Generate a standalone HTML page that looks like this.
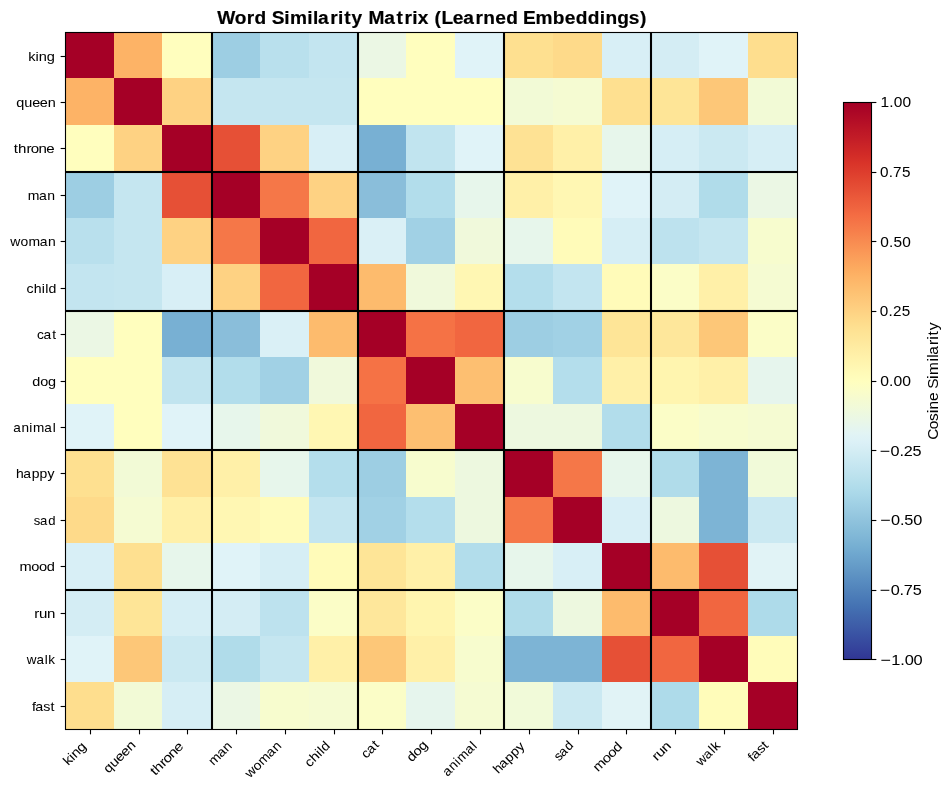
<!DOCTYPE html>
<html><head><meta charset="utf-8"><title>Word Similarity Matrix</title>
<style>html,body{margin:0;padding:0;background:#fff;}svg{display:block;will-change:transform;}text{font-family:"Liberation Sans",sans-serif;fill:#000;}</style></head>
<body>
<svg width="952" height="790" viewBox="0 0 952 790">
<rect x="0" y="0" width="952" height="790" fill="#fff"/>
<g shape-rendering="crispEdges">
<rect x="65" y="32" width="49" height="46" fill="#a50026"/><rect x="114" y="32" width="48" height="46" fill="#fdb366"/><rect x="162" y="32" width="50" height="46" fill="#fffebe"/><rect x="212" y="32" width="48" height="46" fill="#9dcee3"/><rect x="260" y="32" width="49" height="46" fill="#b9e0ed"/><rect x="309" y="32" width="49" height="46" fill="#c3e5f0"/><rect x="358" y="32" width="48" height="46" fill="#ebf7e4"/><rect x="406" y="32" width="49" height="46" fill="#fffebe"/><rect x="455" y="32" width="49" height="46" fill="#e0f3f8"/><rect x="504" y="32" width="49" height="46" fill="#fee090"/><rect x="553" y="32" width="49" height="46" fill="#feda8a"/><rect x="602" y="32" width="49" height="46" fill="#d8eff6"/><rect x="651" y="32" width="48" height="46" fill="#d4edf4"/><rect x="699" y="32" width="49" height="46" fill="#e0f3f8"/><rect x="748" y="32" width="50" height="46" fill="#fede8e"/>
<rect x="65" y="78" width="49" height="47" fill="#fdb366"/><rect x="114" y="78" width="48" height="47" fill="#a50026"/><rect x="162" y="78" width="50" height="47" fill="#fed283"/><rect x="212" y="78" width="48" height="47" fill="#c5e6f0"/><rect x="260" y="78" width="49" height="47" fill="#c5e6f0"/><rect x="309" y="78" width="49" height="47" fill="#c5e6f0"/><rect x="358" y="78" width="48" height="47" fill="#fffebe"/><rect x="406" y="78" width="49" height="47" fill="#fffebe"/><rect x="455" y="78" width="49" height="47" fill="#fffebe"/><rect x="504" y="78" width="49" height="47" fill="#f2fad6"/><rect x="553" y="78" width="49" height="47" fill="#f5fbd2"/><rect x="602" y="78" width="49" height="47" fill="#fee090"/><rect x="651" y="78" width="48" height="47" fill="#fee597"/><rect x="699" y="78" width="49" height="47" fill="#fdc778"/><rect x="748" y="78" width="50" height="47" fill="#f2fad6"/>
<rect x="65" y="125" width="49" height="47" fill="#fffebe"/><rect x="114" y="125" width="48" height="47" fill="#fed283"/><rect x="162" y="125" width="50" height="47" fill="#a50026"/><rect x="212" y="125" width="48" height="47" fill="#e65036"/><rect x="260" y="125" width="49" height="47" fill="#fed283"/><rect x="309" y="125" width="49" height="47" fill="#d8eff6"/><rect x="358" y="125" width="48" height="47" fill="#78b0d3"/><rect x="406" y="125" width="49" height="47" fill="#c1e4ef"/><rect x="455" y="125" width="49" height="47" fill="#e0f3f8"/><rect x="504" y="125" width="49" height="47" fill="#fee294"/><rect x="553" y="125" width="49" height="47" fill="#fff0a8"/><rect x="602" y="125" width="49" height="47" fill="#e7f6eb"/><rect x="651" y="125" width="48" height="47" fill="#d6eef5"/><rect x="699" y="125" width="49" height="47" fill="#cbe9f2"/><rect x="748" y="125" width="50" height="47" fill="#d6eef5"/>
<rect x="65" y="172" width="49" height="46" fill="#9dcee3"/><rect x="114" y="172" width="48" height="46" fill="#c5e6f0"/><rect x="162" y="172" width="50" height="46" fill="#e65036"/><rect x="212" y="172" width="48" height="46" fill="#a50026"/><rect x="260" y="172" width="49" height="46" fill="#f57748"/><rect x="309" y="172" width="49" height="46" fill="#fed283"/><rect x="358" y="172" width="48" height="46" fill="#8abeda"/><rect x="406" y="172" width="49" height="46" fill="#b2ddeb"/><rect x="455" y="172" width="49" height="46" fill="#e7f6eb"/><rect x="504" y="172" width="49" height="46" fill="#fff0a8"/><rect x="553" y="172" width="49" height="46" fill="#fff7b3"/><rect x="602" y="172" width="49" height="46" fill="#e0f3f8"/><rect x="651" y="172" width="48" height="46" fill="#d4edf4"/><rect x="699" y="172" width="49" height="46" fill="#b0dcea"/><rect x="748" y="172" width="50" height="46" fill="#ebf7e4"/>
<rect x="65" y="218" width="49" height="46" fill="#b9e0ed"/><rect x="114" y="218" width="48" height="46" fill="#c5e6f0"/><rect x="162" y="218" width="50" height="46" fill="#fed283"/><rect x="212" y="218" width="48" height="46" fill="#f57748"/><rect x="260" y="218" width="49" height="46" fill="#a50026"/><rect x="309" y="218" width="49" height="46" fill="#f16640"/><rect x="358" y="218" width="48" height="46" fill="#daf0f6"/><rect x="406" y="218" width="49" height="46" fill="#a1d1e5"/><rect x="455" y="218" width="49" height="46" fill="#f0f9db"/><rect x="504" y="218" width="49" height="46" fill="#e7f6eb"/><rect x="553" y="218" width="49" height="46" fill="#fffbb9"/><rect x="602" y="218" width="49" height="46" fill="#d6eef5"/><rect x="651" y="218" width="48" height="46" fill="#bde2ee"/><rect x="699" y="218" width="49" height="46" fill="#c5e6f0"/><rect x="748" y="218" width="50" height="46" fill="#f7fcce"/>
<rect x="65" y="264" width="49" height="47" fill="#c3e5f0"/><rect x="114" y="264" width="48" height="47" fill="#c5e6f0"/><rect x="162" y="264" width="50" height="47" fill="#d8eff6"/><rect x="212" y="264" width="48" height="47" fill="#fed283"/><rect x="260" y="264" width="49" height="47" fill="#f16640"/><rect x="309" y="264" width="49" height="47" fill="#a50026"/><rect x="358" y="264" width="48" height="47" fill="#fdbb6d"/><rect x="406" y="264" width="49" height="47" fill="#f0f9db"/><rect x="455" y="264" width="49" height="47" fill="#fff7b3"/><rect x="504" y="264" width="49" height="47" fill="#b4deec"/><rect x="553" y="264" width="49" height="47" fill="#c3e5f0"/><rect x="602" y="264" width="49" height="47" fill="#fffbb9"/><rect x="651" y="264" width="48" height="47" fill="#fbfdc7"/><rect x="699" y="264" width="49" height="47" fill="#fff0a8"/><rect x="748" y="264" width="50" height="47" fill="#f5fbd2"/>
<rect x="65" y="311" width="49" height="46" fill="#ebf7e4"/><rect x="114" y="311" width="48" height="46" fill="#fffebe"/><rect x="162" y="311" width="50" height="46" fill="#78b0d3"/><rect x="212" y="311" width="48" height="46" fill="#8abeda"/><rect x="260" y="311" width="49" height="46" fill="#daf0f6"/><rect x="309" y="311" width="49" height="46" fill="#fdbb6d"/><rect x="358" y="311" width="48" height="46" fill="#a50026"/><rect x="406" y="311" width="49" height="46" fill="#f57245"/><rect x="455" y="311" width="49" height="46" fill="#f16640"/><rect x="504" y="311" width="49" height="46" fill="#9dcee3"/><rect x="553" y="311" width="49" height="46" fill="#a1d1e5"/><rect x="602" y="311" width="49" height="46" fill="#fee597"/><rect x="651" y="311" width="48" height="46" fill="#fee79b"/><rect x="699" y="311" width="49" height="46" fill="#fdc778"/><rect x="748" y="311" width="50" height="46" fill="#fbfdc7"/>
<rect x="65" y="357" width="49" height="47" fill="#fffebe"/><rect x="114" y="357" width="48" height="47" fill="#fffebe"/><rect x="162" y="357" width="50" height="47" fill="#c1e4ef"/><rect x="212" y="357" width="48" height="47" fill="#b2ddeb"/><rect x="260" y="357" width="49" height="47" fill="#a1d1e5"/><rect x="309" y="357" width="49" height="47" fill="#f0f9db"/><rect x="358" y="357" width="48" height="47" fill="#f57245"/><rect x="406" y="357" width="49" height="47" fill="#a50026"/><rect x="455" y="357" width="49" height="47" fill="#fdbf71"/><rect x="504" y="357" width="49" height="47" fill="#f7fcce"/><rect x="553" y="357" width="49" height="47" fill="#b4deec"/><rect x="602" y="357" width="49" height="47" fill="#fff0a8"/><rect x="651" y="357" width="48" height="47" fill="#fff5af"/><rect x="699" y="357" width="49" height="47" fill="#fff0a8"/><rect x="748" y="357" width="50" height="47" fill="#e6f5ed"/>
<rect x="65" y="404" width="49" height="46" fill="#e0f3f8"/><rect x="114" y="404" width="48" height="46" fill="#fffebe"/><rect x="162" y="404" width="50" height="46" fill="#e0f3f8"/><rect x="212" y="404" width="48" height="46" fill="#e7f6eb"/><rect x="260" y="404" width="49" height="46" fill="#f0f9db"/><rect x="309" y="404" width="49" height="46" fill="#fff7b3"/><rect x="358" y="404" width="48" height="46" fill="#f16640"/><rect x="406" y="404" width="49" height="46" fill="#fdbf71"/><rect x="455" y="404" width="49" height="46" fill="#a50026"/><rect x="504" y="404" width="49" height="46" fill="#edf8df"/><rect x="553" y="404" width="49" height="46" fill="#edf8df"/><rect x="602" y="404" width="49" height="46" fill="#b2ddeb"/><rect x="651" y="404" width="48" height="46" fill="#fbfdc7"/><rect x="699" y="404" width="49" height="46" fill="#f7fcce"/><rect x="748" y="404" width="50" height="46" fill="#f5fbd2"/>
<rect x="65" y="450" width="49" height="47" fill="#fee090"/><rect x="114" y="450" width="48" height="47" fill="#f2fad6"/><rect x="162" y="450" width="50" height="47" fill="#fee294"/><rect x="212" y="450" width="48" height="47" fill="#fff0a8"/><rect x="260" y="450" width="49" height="47" fill="#e7f6eb"/><rect x="309" y="450" width="49" height="47" fill="#b4deec"/><rect x="358" y="450" width="48" height="47" fill="#9dcee3"/><rect x="406" y="450" width="49" height="47" fill="#f7fcce"/><rect x="455" y="450" width="49" height="47" fill="#edf8df"/><rect x="504" y="450" width="49" height="47" fill="#a50026"/><rect x="553" y="450" width="49" height="47" fill="#f57748"/><rect x="602" y="450" width="49" height="47" fill="#e7f6eb"/><rect x="651" y="450" width="48" height="47" fill="#b0dcea"/><rect x="699" y="450" width="49" height="47" fill="#7db4d5"/><rect x="748" y="450" width="50" height="47" fill="#f1fad9"/>
<rect x="65" y="497" width="49" height="46" fill="#feda8a"/><rect x="114" y="497" width="48" height="46" fill="#f5fbd2"/><rect x="162" y="497" width="50" height="46" fill="#fff0a8"/><rect x="212" y="497" width="48" height="46" fill="#fff7b3"/><rect x="260" y="497" width="49" height="46" fill="#fffbb9"/><rect x="309" y="497" width="49" height="46" fill="#c3e5f0"/><rect x="358" y="497" width="48" height="46" fill="#a1d1e5"/><rect x="406" y="497" width="49" height="46" fill="#b4deec"/><rect x="455" y="497" width="49" height="46" fill="#edf8df"/><rect x="504" y="497" width="49" height="46" fill="#f57748"/><rect x="553" y="497" width="49" height="46" fill="#a50026"/><rect x="602" y="497" width="49" height="46" fill="#d8eff6"/><rect x="651" y="497" width="48" height="46" fill="#edf8df"/><rect x="699" y="497" width="49" height="46" fill="#7db4d5"/><rect x="748" y="497" width="50" height="46" fill="#cbe9f2"/>
<rect x="65" y="543" width="49" height="47" fill="#d8eff6"/><rect x="114" y="543" width="48" height="47" fill="#fee090"/><rect x="162" y="543" width="50" height="47" fill="#e7f6eb"/><rect x="212" y="543" width="48" height="47" fill="#e0f3f8"/><rect x="260" y="543" width="49" height="47" fill="#d6eef5"/><rect x="309" y="543" width="49" height="47" fill="#fffbb9"/><rect x="358" y="543" width="48" height="47" fill="#fee597"/><rect x="406" y="543" width="49" height="47" fill="#fff0a8"/><rect x="455" y="543" width="49" height="47" fill="#b2ddeb"/><rect x="504" y="543" width="49" height="47" fill="#e7f6eb"/><rect x="553" y="543" width="49" height="47" fill="#d8eff6"/><rect x="602" y="543" width="49" height="47" fill="#a50026"/><rect x="651" y="543" width="48" height="47" fill="#fdbb6d"/><rect x="699" y="543" width="49" height="47" fill="#e65036"/><rect x="748" y="543" width="50" height="47" fill="#e1f3f6"/>
<rect x="65" y="590" width="49" height="46" fill="#d4edf4"/><rect x="114" y="590" width="48" height="46" fill="#fee597"/><rect x="162" y="590" width="50" height="46" fill="#d6eef5"/><rect x="212" y="590" width="48" height="46" fill="#d4edf4"/><rect x="260" y="590" width="49" height="46" fill="#bde2ee"/><rect x="309" y="590" width="49" height="46" fill="#fbfdc7"/><rect x="358" y="590" width="48" height="46" fill="#fee79b"/><rect x="406" y="590" width="49" height="46" fill="#fff5af"/><rect x="455" y="590" width="49" height="46" fill="#fbfdc7"/><rect x="504" y="590" width="49" height="46" fill="#b0dcea"/><rect x="553" y="590" width="49" height="46" fill="#edf8df"/><rect x="602" y="590" width="49" height="46" fill="#fdbb6d"/><rect x="651" y="590" width="48" height="46" fill="#a50026"/><rect x="699" y="590" width="49" height="46" fill="#f16640"/><rect x="748" y="590" width="50" height="46" fill="#aedbea"/>
<rect x="65" y="636" width="49" height="46" fill="#e0f3f8"/><rect x="114" y="636" width="48" height="46" fill="#fdc778"/><rect x="162" y="636" width="50" height="46" fill="#cbe9f2"/><rect x="212" y="636" width="48" height="46" fill="#b0dcea"/><rect x="260" y="636" width="49" height="46" fill="#c5e6f0"/><rect x="309" y="636" width="49" height="46" fill="#fff0a8"/><rect x="358" y="636" width="48" height="46" fill="#fdc778"/><rect x="406" y="636" width="49" height="46" fill="#fff0a8"/><rect x="455" y="636" width="49" height="46" fill="#f7fcce"/><rect x="504" y="636" width="49" height="46" fill="#7db4d5"/><rect x="553" y="636" width="49" height="46" fill="#7db4d5"/><rect x="602" y="636" width="49" height="46" fill="#e65036"/><rect x="651" y="636" width="48" height="46" fill="#f16640"/><rect x="699" y="636" width="49" height="46" fill="#a50026"/><rect x="748" y="636" width="50" height="46" fill="#fffcba"/>
<rect x="65" y="682" width="49" height="48" fill="#fede8e"/><rect x="114" y="682" width="48" height="48" fill="#f2fad6"/><rect x="162" y="682" width="50" height="48" fill="#d6eef5"/><rect x="212" y="682" width="48" height="48" fill="#ebf7e4"/><rect x="260" y="682" width="49" height="48" fill="#f7fcce"/><rect x="309" y="682" width="49" height="48" fill="#f5fbd2"/><rect x="358" y="682" width="48" height="48" fill="#fbfdc7"/><rect x="406" y="682" width="49" height="48" fill="#e6f5ed"/><rect x="455" y="682" width="49" height="48" fill="#f5fbd2"/><rect x="504" y="682" width="49" height="48" fill="#f1fad9"/><rect x="553" y="682" width="49" height="48" fill="#cbe9f2"/><rect x="602" y="682" width="49" height="48" fill="#e1f3f6"/><rect x="651" y="682" width="48" height="48" fill="#aedbea"/><rect x="699" y="682" width="49" height="48" fill="#fffcba"/><rect x="748" y="682" width="50" height="48" fill="#a50026"/>
</g>
<rect x="210.958" y="32.5" width="2.083" height="697" fill="#000"/>
<rect x="356.958" y="32.5" width="2.083" height="697" fill="#000"/>
<rect x="502.958" y="32.5" width="2.083" height="697" fill="#000"/>
<rect x="649.958" y="32.5" width="2.083" height="697" fill="#000"/>
<rect x="65.5" y="170.958" width="732" height="2.083" fill="#000"/>
<rect x="65.5" y="309.958" width="732" height="2.083" fill="#000"/>
<rect x="65.5" y="448.958" width="732" height="2.083" fill="#000"/>
<rect x="65.5" y="588.958" width="732" height="2.083" fill="#000"/>
<rect x="65.5" y="32.5" width="732" height="697" fill="none" stroke="#000" stroke-width="1.1111"/>
<line x1="60.64" y1="56.5" x2="65.5" y2="56.5" stroke="#000" stroke-width="1.1111"/><line x1="60.64" y1="102.5" x2="65.5" y2="102.5" stroke="#000" stroke-width="1.1111"/><line x1="60.64" y1="148.5" x2="65.5" y2="148.5" stroke="#000" stroke-width="1.1111"/><line x1="60.64" y1="195.5" x2="65.5" y2="195.5" stroke="#000" stroke-width="1.1111"/><line x1="60.64" y1="241.5" x2="65.5" y2="241.5" stroke="#000" stroke-width="1.1111"/><line x1="60.64" y1="288.5" x2="65.5" y2="288.5" stroke="#000" stroke-width="1.1111"/><line x1="60.64" y1="334.5" x2="65.5" y2="334.5" stroke="#000" stroke-width="1.1111"/><line x1="60.64" y1="381.5" x2="65.5" y2="381.5" stroke="#000" stroke-width="1.1111"/><line x1="60.64" y1="427.5" x2="65.5" y2="427.5" stroke="#000" stroke-width="1.1111"/><line x1="60.64" y1="473.5" x2="65.5" y2="473.5" stroke="#000" stroke-width="1.1111"/><line x1="60.64" y1="520.5" x2="65.5" y2="520.5" stroke="#000" stroke-width="1.1111"/><line x1="60.64" y1="566.5" x2="65.5" y2="566.5" stroke="#000" stroke-width="1.1111"/><line x1="60.64" y1="613.5" x2="65.5" y2="613.5" stroke="#000" stroke-width="1.1111"/><line x1="60.64" y1="659.5" x2="65.5" y2="659.5" stroke="#000" stroke-width="1.1111"/><line x1="60.64" y1="706.5" x2="65.5" y2="706.5" stroke="#000" stroke-width="1.1111"/>
<line x1="90.5" y1="729.5" x2="90.5" y2="734.36" stroke="#000" stroke-width="1.1111"/><line x1="139.5" y1="729.5" x2="139.5" y2="734.36" stroke="#000" stroke-width="1.1111"/><line x1="187.5" y1="729.5" x2="187.5" y2="734.36" stroke="#000" stroke-width="1.1111"/><line x1="236.5" y1="729.5" x2="236.5" y2="734.36" stroke="#000" stroke-width="1.1111"/><line x1="285.5" y1="729.5" x2="285.5" y2="734.36" stroke="#000" stroke-width="1.1111"/><line x1="334.5" y1="729.5" x2="334.5" y2="734.36" stroke="#000" stroke-width="1.1111"/><line x1="382.5" y1="729.5" x2="382.5" y2="734.36" stroke="#000" stroke-width="1.1111"/><line x1="431.5" y1="729.5" x2="431.5" y2="734.36" stroke="#000" stroke-width="1.1111"/><line x1="480.5" y1="729.5" x2="480.5" y2="734.36" stroke="#000" stroke-width="1.1111"/><line x1="529.5" y1="729.5" x2="529.5" y2="734.36" stroke="#000" stroke-width="1.1111"/><line x1="578.5" y1="729.5" x2="578.5" y2="734.36" stroke="#000" stroke-width="1.1111"/><line x1="626.5" y1="729.5" x2="626.5" y2="734.36" stroke="#000" stroke-width="1.1111"/><line x1="675.5" y1="729.5" x2="675.5" y2="734.36" stroke="#000" stroke-width="1.1111"/><line x1="724.5" y1="729.5" x2="724.5" y2="734.36" stroke="#000" stroke-width="1.1111"/><line x1="773.5" y1="729.5" x2="773.5" y2="734.36" stroke="#000" stroke-width="1.1111"/>
<defs><linearGradient id="cbg" x1="0" y1="1" x2="0" y2="0"><stop offset="0.0000" stop-color="#313695"/><stop offset="0.0156" stop-color="#34409a"/><stop offset="0.0312" stop-color="#374a9f"/><stop offset="0.0469" stop-color="#3a54a4"/><stop offset="0.0625" stop-color="#3e5ea8"/><stop offset="0.0781" stop-color="#4167ad"/><stop offset="0.0938" stop-color="#4471b2"/><stop offset="0.1094" stop-color="#4a7ab7"/><stop offset="0.1250" stop-color="#5183bb"/><stop offset="0.1406" stop-color="#588cc0"/><stop offset="0.1562" stop-color="#6095c4"/><stop offset="0.1719" stop-color="#679ec9"/><stop offset="0.1875" stop-color="#6ea6ce"/><stop offset="0.2031" stop-color="#76afd2"/><stop offset="0.2188" stop-color="#7fb6d6"/><stop offset="0.2344" stop-color="#87bdd9"/><stop offset="0.2500" stop-color="#90c3dd"/><stop offset="0.2656" stop-color="#99cae1"/><stop offset="0.2812" stop-color="#a1d1e5"/><stop offset="0.2969" stop-color="#aad8e9"/><stop offset="0.3125" stop-color="#b2ddeb"/><stop offset="0.3281" stop-color="#bbe1ed"/><stop offset="0.3438" stop-color="#c3e5f0"/><stop offset="0.3594" stop-color="#cbe9f2"/><stop offset="0.3750" stop-color="#d4edf4"/><stop offset="0.3906" stop-color="#dcf1f7"/><stop offset="0.4062" stop-color="#e2f4f4"/><stop offset="0.4219" stop-color="#e7f6eb"/><stop offset="0.4375" stop-color="#ecf8e2"/><stop offset="0.4531" stop-color="#f1fad9"/><stop offset="0.4688" stop-color="#f6fbd0"/><stop offset="0.4844" stop-color="#fbfdc7"/><stop offset="0.5000" stop-color="#fffebe"/><stop offset="0.5156" stop-color="#fffab7"/><stop offset="0.5312" stop-color="#fff5af"/><stop offset="0.5469" stop-color="#fff0a8"/><stop offset="0.5625" stop-color="#feeba1"/><stop offset="0.5781" stop-color="#fee699"/><stop offset="0.5938" stop-color="#fee192"/><stop offset="0.6094" stop-color="#feda8a"/><stop offset="0.6250" stop-color="#fed283"/><stop offset="0.6406" stop-color="#feca7c"/><stop offset="0.6562" stop-color="#fdc374"/><stop offset="0.6719" stop-color="#fdbb6d"/><stop offset="0.6875" stop-color="#fdb366"/><stop offset="0.7031" stop-color="#fcaa5f"/><stop offset="0.7188" stop-color="#fba05b"/><stop offset="0.7344" stop-color="#fa9656"/><stop offset="0.7500" stop-color="#f88c51"/><stop offset="0.7656" stop-color="#f7814c"/><stop offset="0.7812" stop-color="#f57748"/><stop offset="0.7969" stop-color="#f46d43"/><stop offset="0.8125" stop-color="#ef633f"/><stop offset="0.8281" stop-color="#eb5a3a"/><stop offset="0.8438" stop-color="#e65036"/><stop offset="0.8594" stop-color="#e24731"/><stop offset="0.8750" stop-color="#dd3d2d"/><stop offset="0.8906" stop-color="#d93429"/><stop offset="0.9062" stop-color="#d22b27"/><stop offset="0.9219" stop-color="#ca2427"/><stop offset="0.9375" stop-color="#c21c27"/><stop offset="0.9531" stop-color="#bb1526"/><stop offset="0.9688" stop-color="#b30d26"/><stop offset="0.9844" stop-color="#ab0626"/><stop offset="1.0000" stop-color="#a50026"/></linearGradient></defs>
<rect x="843.5" y="102.5" width="28" height="557" fill="url(#cbg)"/>
<rect x="843.5" y="102.5" width="28" height="557" fill="none" stroke="#000" stroke-width="1.1111"/>
<line x1="871.5" y1="102.5" x2="876.36" y2="102.5" stroke="#000" stroke-width="1.1111"/><line x1="871.5" y1="172.5" x2="876.36" y2="172.5" stroke="#000" stroke-width="1.1111"/><line x1="871.5" y1="241.5" x2="876.36" y2="241.5" stroke="#000" stroke-width="1.1111"/><line x1="871.5" y1="311.5" x2="876.36" y2="311.5" stroke="#000" stroke-width="1.1111"/><line x1="871.5" y1="381.5" x2="876.36" y2="381.5" stroke="#000" stroke-width="1.1111"/><line x1="871.5" y1="450.5" x2="876.36" y2="450.5" stroke="#000" stroke-width="1.1111"/><line x1="871.5" y1="520.5" x2="876.36" y2="520.5" stroke="#000" stroke-width="1.1111"/><line x1="871.5" y1="590.5" x2="876.36" y2="590.5" stroke="#000" stroke-width="1.1111"/><line x1="871.5" y1="659.5" x2="876.36" y2="659.5" stroke="#000" stroke-width="1.1111"/>
<text transform="translate(54.74,60.62) scale(1.1213,1)" x="-23.67 -17.13 -14.20 -7.21" y="0" font-size="13.00" stroke="#000" stroke-width="0.03">king</text>
<text transform="translate(55.57,107.01) scale(1.1117,1)" x="-35.33 -28.16 -21.09 -14.18 -7.15" y="0" font-size="13.00" stroke="#000" stroke-width="0.03">queen</text>
<text transform="translate(54.35,152.58) scale(1.1603,1)" x="-35.04 -31.29 -24.05 -20.36 -13.64 -6.91" y="0" font-size="13.00" stroke="#000" stroke-width="0.03">throne</text>
<text transform="translate(55.16,199.54) scale(1.0785,1)" x="-25.48 -14.97 -7.26" y="0" font-size="13.00" stroke="#000" stroke-width="0.03">man</text>
<text transform="translate(55.89,245.71) scale(1.0712,1)" x="-42.53 -33.10 -25.61 -15.04 -7.29" y="0" font-size="13.00" stroke="#000" stroke-width="0.03">woman</text>
<text transform="translate(56.51,293.06) scale(1.0849,1)" x="-27.58 -20.98 -13.55 -10.36 -7.33" y="0" font-size="13.00" stroke="#000" stroke-width="0.03">child</text>
<text transform="translate(56.63,338.53) scale(1.0594,1)" x="-18.50 -12.31 -4.15" y="0" font-size="13.00" stroke="#000" stroke-width="0.03">cat</text>
<text transform="translate(55.98,385.70) scale(1.1098,1)" x="-21.29 -14.21 -7.24" y="0" font-size="13.00" stroke="#000" stroke-width="0.03">dog</text>
<text transform="translate(55.90,432.06) scale(1.0427,1)" x="-41.03 -33.08 -25.46 -21.90 -11.08 -3.11" y="0" font-size="13.00" stroke="#000" stroke-width="0.03">animal</text>
<text transform="translate(54.77,478.18) scale(1.0730,1)" x="-36.12 -29.32 -21.54 -14.14 -6.70" y="0" font-size="13.00" stroke="#000" stroke-width="0.03">happy</text>
<text transform="translate(55.88,524.77) scale(1.0062,1)" x="-21.90 -15.77 -7.63" y="0" font-size="13.00" stroke="#000" stroke-width="0.03">sad</text>
<text transform="translate(54.84,570.86) scale(1.1253,1)" x="-31.44 -20.86 -14.06 -7.19" y="0" font-size="13.00" stroke="#000" stroke-width="0.03">mood</text>
<text transform="translate(55.05,617.64) scale(1.1568,1)" x="-17.92 -13.91 -7.02" y="0" font-size="13.00" stroke="#000" stroke-width="0.03">run</text>
<text transform="translate(55.21,664.31) scale(1.0343,1)" x="-27.41 -18.14 -10.12 -6.67" y="0" font-size="13.00" stroke="#000" stroke-width="0.03">walk</text>
<text transform="translate(54.99,711.10) scale(1.0982,1)" x="-21.04 -17.95 -10.59 -4.07" y="0" font-size="13.00" stroke="#000" stroke-width="0.03">fast</text>
<text transform="translate(87.03,747.35) rotate(-45) scale(1.1213,1)" x="-23.67 -17.13 -14.20 -7.21" y="0" font-size="13.00" stroke="#000" stroke-width="0.03">king</text>
<text transform="translate(136.28,745.99) rotate(-45) scale(1.1117,1)" x="-35.33 -28.16 -21.09 -14.18 -7.15" y="0" font-size="13.00" stroke="#000" stroke-width="0.03">queen</text>
<text transform="translate(184.02,747.36) rotate(-45) scale(1.1603,1)" x="-35.04 -31.29 -24.05 -20.36 -13.64 -6.91" y="0" font-size="13.00" stroke="#000" stroke-width="0.03">throne</text>
<text transform="translate(232.86,746.63) rotate(-45) scale(1.0785,1)" x="-25.48 -14.97 -7.26" y="0" font-size="13.00" stroke="#000" stroke-width="0.03">man</text>
<text transform="translate(282.23,746.38) rotate(-45) scale(1.0712,1)" x="-42.53 -33.10 -25.61 -15.04 -7.29" y="0" font-size="13.00" stroke="#000" stroke-width="0.03">woman</text>
<text transform="translate(330.84,746.50) rotate(-45) scale(1.0849,1)" x="-27.58 -20.98 -13.55 -10.36 -7.33" y="0" font-size="13.00" stroke="#000" stroke-width="0.03">child</text>
<text transform="translate(380.14,745.17) rotate(-45) scale(1.0594,1)" x="-18.50 -12.31 -4.15" y="0" font-size="13.00" stroke="#000" stroke-width="0.03">cat</text>
<text transform="translate(428.45,745.76) rotate(-45) scale(1.1098,1)" x="-21.29 -14.21 -7.24" y="0" font-size="13.00" stroke="#000" stroke-width="0.03">dog</text>
<text transform="translate(477.70,746.63) rotate(-45) scale(1.0427,1)" x="-41.03 -33.08 -25.46 -21.90 -11.08 -3.11" y="0" font-size="13.00" stroke="#000" stroke-width="0.03">animal</text>
<text transform="translate(525.59,746.87) rotate(-45) scale(1.0730,1)" x="-36.12 -29.32 -21.54 -14.14 -6.70" y="0" font-size="13.00" stroke="#000" stroke-width="0.03">happy</text>
<text transform="translate(574.54,745.93) rotate(-45) scale(1.0062,1)" x="-21.90 -15.77 -7.63" y="0" font-size="13.00" stroke="#000" stroke-width="0.03">sad</text>
<text transform="translate(623.08,747.34) rotate(-45) scale(1.1253,1)" x="-31.44 -20.86 -14.06 -7.19" y="0" font-size="13.00" stroke="#000" stroke-width="0.03">mood</text>
<text transform="translate(671.68,746.73) rotate(-45) scale(1.1568,1)" x="-17.92 -13.91 -7.02" y="0" font-size="13.00" stroke="#000" stroke-width="0.03">run</text>
<text transform="translate(721.02,746.36) rotate(-45) scale(1.0343,1)" x="-27.41 -18.14 -10.12 -6.67" y="0" font-size="13.00" stroke="#000" stroke-width="0.03">walk</text>
<text transform="translate(769.39,745.83) rotate(-45) scale(1.0982,1)" x="-21.04 -17.95 -10.59 -4.07" y="0" font-size="13.00" stroke="#000" stroke-width="0.03">fast</text>
<text transform="translate(431.78,24.25) scale(1.0740,1)" x="-199.81 -183.57 -172.29 -165.16 -153.88 -148.99 -137.38 -132.10 -115.94 -110.64 -105.84 -94.54 -87.25 -81.47 -74.70 -64.43 -58.96 -44.17 -32.75 -25.48 -18.19 -13.02 -2.86 2.49 9.06 19.46 29.42 40.72 47.91 59.06 69.37 80.64 85.06 96.54 112.70 123.81 134.12 145.20 156.44 161.65 172.61 183.40 193.83" y="0" font-size="17.80" font-weight="bold" stroke="#000" stroke-width="0.18">Word Similarity Matrix (Learned Embeddings)</text>
<text transform="translate(880.44,106.88) scale(1.0465,1)" x="0.02 8.48 12.75 21.19" y="0" font-size="14.80" stroke="#000" stroke-width="0.03">1.00</text>
<text transform="translate(879.75,176.90) scale(1.0345,1)" x="0.15 8.60 12.92 21.43" y="0" font-size="14.80" stroke="#000" stroke-width="0.03">0.75</text>
<text transform="translate(880.13,246.72) scale(1.0417,1)" x="0.12 8.53 12.78 21.30" y="0" font-size="14.80" stroke="#000" stroke-width="0.03">0.50</text>
<text transform="translate(879.68,315.59) scale(1.0299,1)" x="0.17 8.65 12.85 21.54" y="0" font-size="14.80" stroke="#000" stroke-width="0.03">0.25</text>
<text transform="translate(880.21,386.49) scale(1.0602,1)" x="0.05 8.35 12.53 20.86" y="0" font-size="14.80" stroke="#000" stroke-width="0.03">0.00</text>
<text transform="translate(879.66,455.94) scale(1.2091,1)" x="0" y="0" font-size="14.80" stroke="#000" stroke-width="0.03">−</text><text transform="translate(879.07,455.94) scale(1.0944,1)" x="10.54 18.64 22.47 30.66" y="0" font-size="14.80" stroke="#000" stroke-width="0.03">0.25</text>
<text transform="translate(880.19,525.03) scale(1.2091,1)" x="0" y="0" font-size="14.80" stroke="#000" stroke-width="0.03">−</text><text transform="translate(879.60,525.03) scale(1.1026,1)" x="10.43 18.49 22.39 30.44" y="0" font-size="14.80" stroke="#000" stroke-width="0.03">0.50</text>
<text transform="translate(879.71,595.27) scale(1.2091,1)" x="0" y="0" font-size="14.80" stroke="#000" stroke-width="0.03">−</text><text transform="translate(879.12,595.27) scale(1.0979,1)" x="10.50 18.58 22.53 30.55" y="0" font-size="14.80" stroke="#000" stroke-width="0.03">0.75</text>
<text transform="translate(880.56,665.27) scale(1.2091,1)" x="0" y="0" font-size="14.80" stroke="#000" stroke-width="0.03">−</text><text transform="translate(879.97,665.27) scale(1.1075,1)" x="10.28 18.40 22.32 30.29" y="0" font-size="14.80" stroke="#000" stroke-width="0.03">1.00</text>
<text transform="translate(938.34,380.67) rotate(-90) scale(1.0437,1)" x="-56.64 -46.62 -38.59 -31.31 -27.70 -19.40 -11.17 -7.64 1.65 5.49 18.30 21.98 24.91 34.13 39.30 43.29 48.22" y="0" font-size="14.80" stroke="#000" stroke-width="0.03">Cosine Similarity</text>
</svg>
</body></html>
